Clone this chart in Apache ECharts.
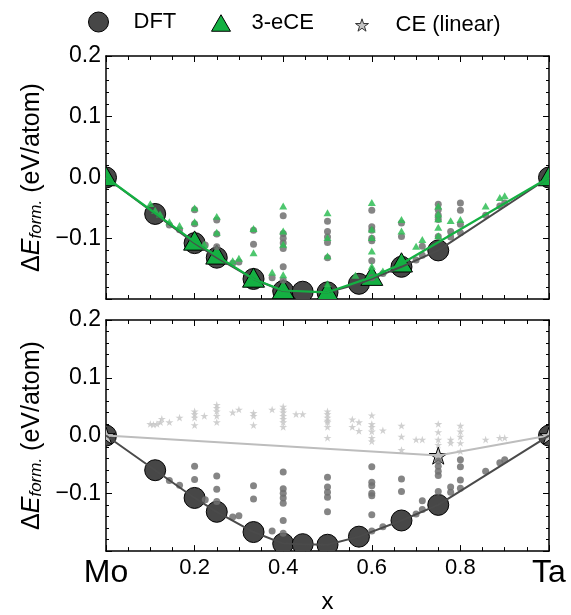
<!DOCTYPE html>
<html>
<head>
<meta charset="utf-8">
<script src="https://cdn.jsdelivr.net/npm/echarts@6/dist/echarts.min.js"></script>
<style>html,body{margin:0;padding:0;background:#fff}#c{width:571px;height:615px}</style>
</head>
<body>
<div id="c"></div>
<script>
// ---------------- data ----------------
const xTickLabels = ['Mo', '0.2', '0.4', '0.6', '0.8', 'Ta'];
const yTickLabels = ['', '\u22120.1', '0.0', '0.1', '0.2'];

const dftHull = [[0,0],[0.111,-0.060],[0.2,-0.108],[0.25,-0.132],[0.333,-0.167],[0.4,-0.187],[0.444,-0.188],[0.5,-0.189],[0.571,-0.175],[0.667,-0.147],[0.75,-0.120],[1,0]];

const dftAll = [[0.143,-0.078],[0.166,-0.086],[0.2,-0.053],[0.2,-0.076],[0.224,-0.111],[0.25,-0.070],[0.25,-0.093],[0.25,-0.114],[0.286,-0.141],[0.3,-0.139],[0.333,-0.087],[0.333,-0.110],[0.375,-0.165],[0.4,-0.063],[0.4,-0.092],[0.4,-0.100],[0.4,-0.108],[0.4,-0.117],[0.4,-0.147],[0.4,-0.169],[0.5,-0.072],[0.5,-0.089],[0.5,-0.098],[0.5,-0.107],[0.5,-0.132],[0.6,-0.054],[0.6,-0.081],[0.6,-0.087],[0.6,-0.100],[0.6,-0.104],[0.6,-0.137],[0.6,-0.165],[0.625,-0.158],[0.667,-0.075],[0.667,-0.097],[0.7,-0.136],[0.714,-0.113],[0.714,-0.128],[0.75,-0.044],[0.75,-0.053],[0.75,-0.062],[0.75,-0.069],[0.75,-0.097],[0.778,-0.089],[0.778,-0.098],[0.8,-0.042],[0.8,-0.054],[0.8,-0.077],[0.8,-0.091],[0.857,-0.062],[0.889,-0.047],[0.9,-0.042]];

const eceHull = [[0,0],[0.2,-0.106],[0.25,-0.129],[0.333,-0.167],[0.4,-0.186],[0.5,-0.189],[0.6,-0.164],[0.667,-0.142],[1,0]];

const eceAll = [[0.1,-0.043],[0.111,-0.054],[0.122,-0.060],[0.143,-0.073],[0.166,-0.079],[0.2,-0.050],[0.2,-0.073],[0.222,-0.110],[0.25,-0.064],[0.25,-0.090],[0.286,-0.137],[0.3,-0.133],[0.333,-0.084],[0.333,-0.124],[0.375,-0.156],[0.4,-0.047],[0.4,-0.088],[0.4,-0.110],[0.4,-0.160],[0.5,-0.058],[0.5,-0.099],[0.5,-0.129],[0.5,-0.175],[0.563,-0.161],[0.6,-0.041],[0.6,-0.085],[0.6,-0.099],[0.6,-0.121],[0.6,-0.146],[0.625,-0.154],[0.667,-0.069],[0.667,-0.088],[0.7,-0.113],[0.714,-0.102],[0.75,-0.047],[0.75,-0.060],[0.75,-0.068],[0.75,-0.082],[0.75,-0.096],[0.778,-0.071],[0.8,-0.069],[0.857,-0.047],[0.889,-0.033],[0.9,-0.030]];

const ceHull = [[0,0],[0.75,-0.0345],[1,0]];

const ceAll = [[0.1,0.020],[0.107,0.019],[0.115,0.020],[0.123,0.023],[0.126,0.029],[0.143,0.023],[0.166,0.031],[0.2,0.042],[0.2,0.037],[0.2,0.031],[0.2,0.018],[0.222,0.034],[0.25,0.053],[0.25,0.048],[0.25,0.042],[0.25,0.034],[0.25,0.023],[0.286,0.040],[0.3,0.045],[0.333,0.039],[0.333,0.034],[0.333,0.018],[0.375,0.045],[0.4,0.050],[0.4,0.045],[0.4,0.040],[0.4,0.034],[0.4,0.029],[0.4,0.023],[0.4,0.015],[0.429,0.037],[0.444,0.037],[0.5,0.042],[0.5,0.037],[0.5,0.031],[0.5,0.026],[0.5,0.023],[0.5,0.015],[0.5,-0.004],[0.556,0.028],[0.556,0.015],[0.571,0.023],[0.571,0.008],[0.6,0.035],[0.6,0.020],[0.6,0.015],[0.6,0.007],[0.6,-0.004],[0.6,-0.010],[0.625,0.009],[0.667,0.017],[0.667,-0.002],[0.667,-0.025],[0.7,-0.007],[0.714,-0.007],[0.75,0.020],[0.75,0.006],[0.75,-0.007],[0.75,-0.016],[0.778,-0.007],[0.778,-0.013],[0.8,0.017],[0.8,0.007],[0.8,-0.002],[0.8,-0.013],[0.8,-0.027],[0.857,-0.007],[0.889,-0.004],[0.9,-0.004]];

// ---------------- styling / helpers ----------------
const FONT = '"Liberation Sans", Arial, Helvetica, sans-serif';
const STAR = 'path://M100 0 L122.45 69.1 L195.1 69.1 L136.3 111.8 L158.8 180.9 L100 138.2 L41.2 180.9 L63.7 111.8 L4.9 69.1 L77.55 69.1 Z';
const TRI = 'path://M50 0 L100 87 L0 87 Z';
const C_DFT = '#474747', C_DFT_S = '#707070', C_ECE = '#14b042', C_ECE_S = '#2fbd55', C_CE = '#c4c4c4';

function starPts(cx, cy, R) {
  const pts = [];
  for (let i = 0; i < 10; i++) {
    const r = i % 2 === 0 ? R : R * 0.382;
    const a = -Math.PI / 2 + i * Math.PI / 5;
    pts.push([cx + r * Math.cos(a), cy + r * Math.sin(a)]);
  }
  return pts;
}
function bigMarker(kind, fill, size) {
  return function (params, api) {
    const p = api.coord([api.value(0), api.value(1)]);
    const st = { fill: fill, stroke: '#000', lineWidth: 1 };
    if (kind === 'circle') return { type: 'circle', shape: { cx: p[0], cy: p[1], r: size / 2 }, style: st };
    if (kind === 'triangle') {
      const h = size / 2;
      return { type: 'polygon', shape: { points: [[p[0], p[1] - h], [p[0] + h, p[1] + h * 0.75], [p[0] - h, p[1] + h * 0.75]] }, style: st };
    }
    return { type: 'polygon', shape: { points: starPts(p[0], p[1] + 1, size / 2) }, style: st };
  };
}

const xLabelFmt = function (v) {
  const i = Math.round(v / 0.2);
  const s = xTickLabels[i];
  return (i === 0 || i === 5) ? '{big|' + s + '}' : s;
};
const yLabelFmt = function (v) {
  const i = Math.round((v + 0.2) / 0.1);
  return yTickLabels[i];
};

function xAx(g, pos, labels) {
  return {
    type: 'value', gridIndex: g, position: pos, min: 0, max: 1, interval: 0.2,
    axisLine: { show: true, onZero: false, lineStyle: { color: '#000', width: 1.5 } },
    axisTick: { show: true, inside: true, length: 6, lineStyle: { color: '#000', width: 1 } },
    minorTick: { show: true, splitNumber: 4, length: 4, lineStyle: { color: '#000', width: 1 } },
    splitLine: { show: false },
    axisLabel: labels ? {
      show: true, margin: 6, fontSize: 22, color: '#000', fontFamily: FONT, formatter: xLabelFmt,
      rich: { big: { fontSize: 32, color: '#000', fontFamily: FONT } }
    } : { show: false },
    name: labels ? 'x' : '', nameLocation: 'middle', nameGap: 38,
    nameTextStyle: { fontSize: 24, color: '#000', fontFamily: FONT }
  };
}
function yAx(g, pos, labels) {
  return {
    type: 'value', gridIndex: g, position: pos, min: -0.2, max: 0.2, interval: 0.1,
    axisLine: { show: true, onZero: false, lineStyle: { color: '#000', width: 1.5 } },
    axisTick: { show: true, inside: true, length: 6, lineStyle: { color: '#000', width: 1 } },
    minorTick: { show: true, splitNumber: 5, length: 3, lineStyle: { color: '#000', width: 1 } },
    splitLine: { show: false },
    axisLabel: labels ? { show: true, margin: 5, fontSize: 23, color: '#000', fontFamily: FONT, formatter: yLabelFmt } : { show: false },
    name: labels ? '{a|\u0394}{e|E}{s|form.}{a| (eV/atom)}' : '',
    nameLocation: 'middle', nameRotate: 90, nameGap: 56,
    nameTextStyle: {
      rich: {
        a: { fontSize: 25, color: '#000', fontFamily: FONT },
        e: { fontSize: 25, color: '#000', fontFamily: FONT, fontStyle: 'italic' },
        s: { fontSize: 17, color: '#000', fontFamily: FONT, fontStyle: 'italic', verticalAlign: 'bottom' }
      }
    }
  };
}
function legendItem(name, icon, size, left, top, gap, style) {
  return {
    left: left, top: top, padding: 0, itemWidth: size, itemHeight: size, selectedMode: false,
    symbolKeepAspect: true,
    formatter: function (n) { return '{g|}' + n; },
    textStyle: { fontSize: 22, color: '#000', fontFamily: FONT, rich: { g: { width: gap } } },
    data: [{ name: name, icon: icon, itemStyle: style }]
  };
}

const option = {
  animation: false,
  backgroundColor: '#fff',
  legend: [
    legendItem('DFT', 'circle', 20, 88, 11, 20, { color: C_DFT, borderColor: '#000', borderWidth: 1 }),
    legendItem('3-eCE', TRI, 19, 211, 12, 16, { color: C_ECE, borderColor: '#000', borderWidth: 1 }),
    legendItem('CE (linear)', STAR, 13, 355, 14, 22, { color: C_CE, borderColor: '#333', borderWidth: 1 })
  ],
  grid: [
    { left: 106, right: 22, top: 56, height: 243 },
    { left: 106, right: 22, top: 320, height: 242 }
  ],
  xAxis: [xAx(0, 'bottom', false), xAx(0, 'top', false), xAx(1, 'bottom', true), xAx(1, 'top', false)],
  yAxis: [yAx(0, 'left', true), yAx(0, 'right', false), yAx(1, 'left', true), yAx(1, 'right', false)],
  series: [
    // ---- top panel ----
    { type: 'scatter', name: 'dft-all', xAxisIndex: 0, yAxisIndex: 0, data: dftAll, symbol: 'circle', symbolSize: 7,
      itemStyle: { color: C_DFT_S, opacity: 0.85 } },
    { type: 'scatter', name: 'ece-all', xAxisIndex: 0, yAxisIndex: 0, data: eceAll, symbol: TRI, symbolSize: [8, 8], symbolKeepAspect: true,
      itemStyle: { color: C_ECE_S, opacity: 0.85 } },
    { type: 'line', name: 'dft-hull', xAxisIndex: 0, yAxisIndex: 0, data: dftHull, symbol: 'none',
      lineStyle: { color: '#4a4a4a', width: 2 } },
    { type: 'custom', name: 'DFT', xAxisIndex: 0, yAxisIndex: 0, data: dftHull, clip: true,
      encode: { x: 0, y: 1 }, itemStyle: { color: C_DFT }, renderItem: bigMarker('circle', C_DFT, 21) },
    { type: 'line', name: 'ece-hull', xAxisIndex: 0, yAxisIndex: 0, data: eceHull, symbol: 'none',
      lineStyle: { color: C_ECE, width: 2.2 } },
    { type: 'custom', name: '3-eCE', xAxisIndex: 0, yAxisIndex: 0, data: eceHull, clip: true,
      encode: { x: 0, y: 1 }, itemStyle: { color: C_ECE }, renderItem: bigMarker('triangle', C_ECE, 22) },
    // ---- bottom panel ----
    { type: 'scatter', name: 'ce-all', xAxisIndex: 2, yAxisIndex: 2, data: ceAll, symbol: STAR, symbolSize: 8, symbolKeepAspect: true,
      itemStyle: { color: C_CE } },
    { type: 'line', name: 'ce-hull', xAxisIndex: 2, yAxisIndex: 2, data: ceHull, symbol: 'none',
      lineStyle: { color: '#bdbdbd', width: 2 } },
    { type: 'scatter', name: 'dft-all-b', xAxisIndex: 2, yAxisIndex: 2, data: dftAll, symbol: 'circle', symbolSize: 7,
      itemStyle: { color: C_DFT_S, opacity: 0.85 } },
    { type: 'line', name: 'dft-hull-b', xAxisIndex: 2, yAxisIndex: 2, data: dftHull, symbol: 'none',
      lineStyle: { color: '#4a4a4a', width: 2 } },
    { type: 'custom', name: 'DFT', xAxisIndex: 2, yAxisIndex: 2, data: dftHull, clip: true,
      encode: { x: 0, y: 1 }, itemStyle: { color: C_DFT }, renderItem: bigMarker('circle', C_DFT, 21) },
    { type: 'custom', name: 'CE (linear)', xAxisIndex: 2, yAxisIndex: 2, data: ceHull, clip: true,
      encode: { x: 0, y: 1 }, itemStyle: { color: C_CE }, renderItem: bigMarker('star', C_CE, 19) }
  ]
};

const chart = echarts.init(document.getElementById('c'), null, { renderer: 'canvas' });
chart.setOption(option);
</script>
</body>
</html>
